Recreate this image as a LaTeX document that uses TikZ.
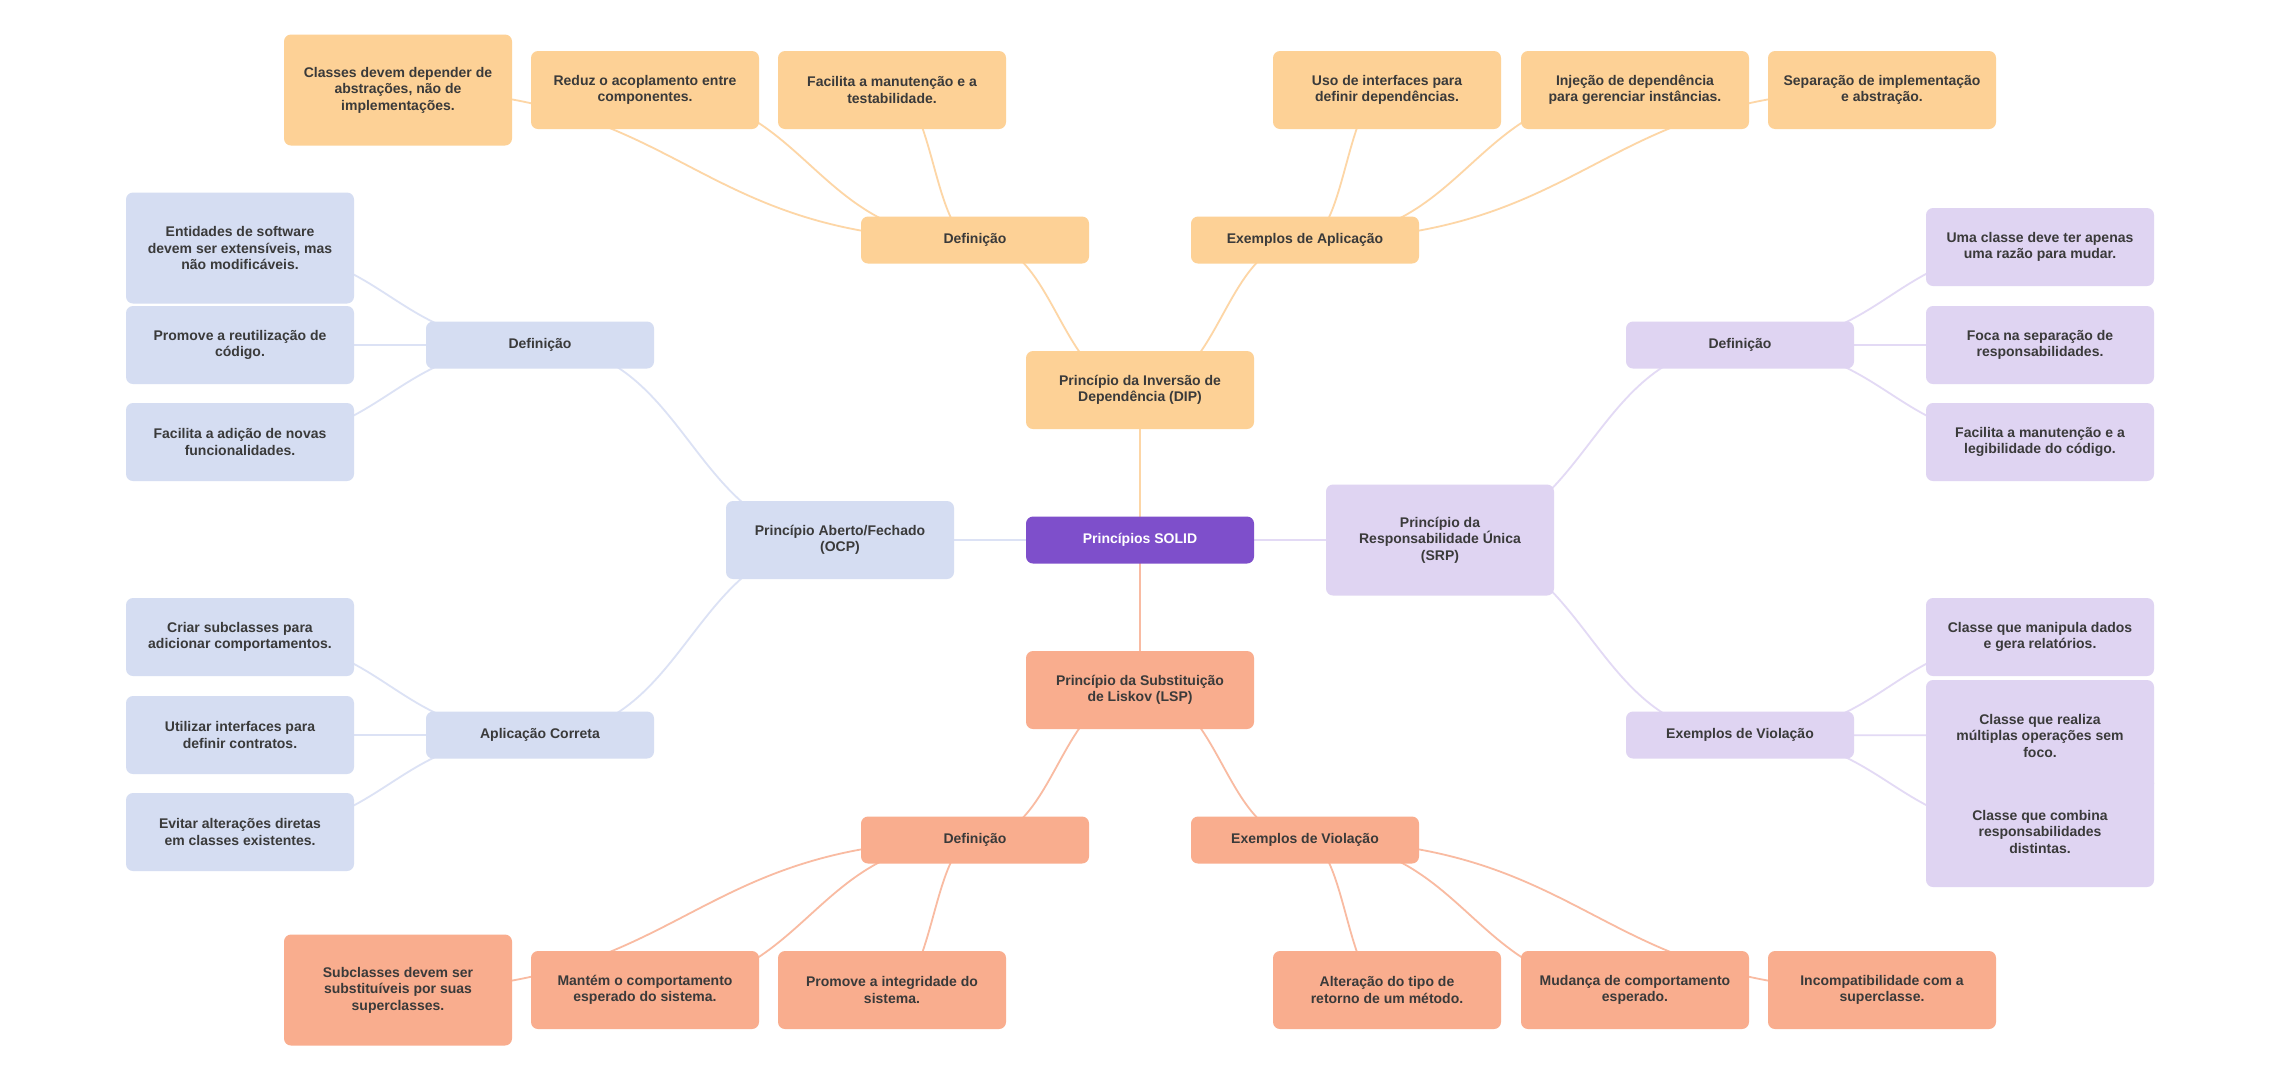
\documentclass[tikz,border=0pt]{standalone}
\usepackage{fontspec}
\setmainfont{Liberation Sans}
\usetikzlibrary{calc}
\definecolor{cRoot}{HTML}{7E4FCB}
\definecolor{cDip}{HTML}{FDD196}
\definecolor{cOcp}{HTML}{D5DDF2}
\definecolor{cSrp}{HTML}{DFD4F2}
\definecolor{cLsp}{HTML}{F9AD8E}
\definecolor{eDip}{HTML}{FDD6A6}
\definecolor{eOcp}{HTML}{DCE2F5}
\definecolor{eSrp}{HTML}{E3DAF5}
\definecolor{eLsp}{HTML}{F9BBA2}
\definecolor{txt}{HTML}{3A3A3A}
\pgfdeclarelayer{edgelayer}
\pgfsetlayers{edgelayer,main}
\newcommand\mmconn[3]{\draw[edge,#3] let \p1=(#1.center), \p2=(#2.center) in (\p1) .. controls ({0.5*(\x1+\x2)},\y1) and ({0.5*(\x1+\x2)},\y2) .. (\p2);}
\tikzset{
  box/.style={rounded corners=7pt, minimum width=228pt, inner sep=0pt, align=center,
    font=\fontsize{14}{16.5}\selectfont\bfseries, text=txt},
  hA/.style={minimum height=47pt},
  hB/.style={minimum height=78pt},
  hC/.style={minimum height=111pt},
  dipbox/.style={box, fill=cDip},
  ocpbox/.style={box, fill=cOcp},
  srpbox/.style={box, fill=cSrp},
  lspbox/.style={box, fill=cLsp},
  rootbox/.style={box, fill=cRoot, text=white},
  edge/.style={line width=1.8pt},
}
\begin{document}
\begin{tikzpicture}[x=1pt,y=-1pt]
\useasboundingbox (0,0) rectangle (2280,1080);
% root
\node[rootbox,hA] (root) at (1140,540) {Princípios SOLID};
% DIP
\node[dipbox,hB] (dip) at (1140,390) {Princípio da Inversão de\\Dependência (DIP)};
\node[dipbox,hA] (dipdef) at (975,240) {Definição};
\node[dipbox,hA] (dipex) at (1305,240) {Exemplos de Aplicação};
\node[dipbox,hC] (dipd1) at (398,90) {Classes devem depender de\\abstrações, não de\\implementações.};
\node[dipbox,hB] (dipd2) at (645,90) {Reduz o acoplamento entre\\componentes.};
\node[dipbox,hB] (dipd3) at (892,90) {Facilita a manutenção e a\\testabilidade.};
\node[dipbox,hB] (dipe1) at (1387,90) {Uso de interfaces para\\definir dependências.};
\node[dipbox,hB] (dipe2) at (1635,90) {Injeção de dependência\\para gerenciar instâncias.};
\node[dipbox,hB] (dipe3) at (1882,90) {Separação de implementação\\e abstração.};
% OCP
\node[ocpbox,hB] (ocp) at (840,540) {Princípio Aberto/Fechado\\(OCP)};
\node[ocpbox,hA] (ocpdef) at (540,345) {Definição};
\node[ocpbox,hA] (ocpapp) at (540,735) {Aplicação Correta};
\node[ocpbox,hC] (ocpd1) at (240,248) {Entidades de software\\devem ser extensíveis, mas\\não modificáveis.};
\node[ocpbox,hB] (ocpd2) at (240,345) {Promove a reutilização de\\código.};
\node[ocpbox,hB] (ocpd3) at (240,442) {Facilita a adição de novas\\funcionalidades.};
\node[ocpbox,hB] (ocpa1) at (240,637) {Criar subclasses para\\adicionar comportamentos.};
\node[ocpbox,hB] (ocpa2) at (240,735) {Utilizar interfaces para\\definir contratos.};
\node[ocpbox,hB] (ocpa3) at (240,832) {Evitar alterações diretas\\em classes existentes.};
% SRP
\node[srpbox,hC] (srp) at (1440,540) {Princípio da\\Responsabilidade Única\\(SRP)};
\node[srpbox,hA] (srpdef) at (1740,345) {Definição};
\node[srpbox,hA] (srpex) at (1740,735) {Exemplos de Violação};
\node[srpbox,hB] (srpd1) at (2040,247) {Uma classe deve ter apenas\\uma razão para mudar.};
\node[srpbox,hB] (srpd2) at (2040,345) {Foca na separação de\\responsabilidades.};
\node[srpbox,hB] (srpd3) at (2040,442) {Facilita a manutenção e a\\legibilidade do código.};
\node[srpbox,hB] (srpe1) at (2040,637) {Classe que manipula dados\\e gera relatórios.};
\node[srpbox,hC] (srpe2) at (2040,735.5) {Classe que realiza\\múltiplas operações sem\\foco.};
\node[srpbox,hC] (srpe3) at (2040,831.5) {Classe que combina\\responsabilidades\\distintas.};
% LSP
\node[lspbox,hB] (lsp) at (1140,690) {Princípio da Substituição\\de Liskov (LSP)};
\node[lspbox,hA] (lspdef) at (975,840) {Definição};
\node[lspbox,hA] (lspex) at (1305,840) {Exemplos de Violação};
\node[lspbox,hC] (lspd1) at (398,990) {Subclasses devem ser\\substituíveis por suas\\superclasses.};
\node[lspbox,hB] (lspd2) at (645,990) {Mantém o comportamento\\esperado do sistema.};
\node[lspbox,hB] (lspd3) at (892,990) {Promove a integridade do\\sistema.};
\node[lspbox,hB] (lspe1) at (1387,990) {Alteração do tipo de\\retorno de um método.};
\node[lspbox,hB] (lspe2) at (1635,990) {Mudança de comportamento\\esperado.};
\node[lspbox,hB] (lspe3) at (1882,990) {Incompatibilidade com a\\superclasse.};
% edges
\begin{pgfonlayer}{edgelayer}
\fill[white] (0,0) rectangle (2280,1080);
\mmconn{root}{dip}{eDip}
\mmconn{root}{ocp}{eOcp}
\mmconn{root}{srp}{eSrp}
\mmconn{root}{lsp}{eLsp}
\mmconn{dip}{dipdef}{eDip}
\mmconn{dip}{dipex}{eDip}
\mmconn{dipdef}{dipd1}{eDip}
\mmconn{dipdef}{dipd2}{eDip}
\mmconn{dipdef}{dipd3}{eDip}
\mmconn{dipex}{dipe1}{eDip}
\mmconn{dipex}{dipe2}{eDip}
\mmconn{dipex}{dipe3}{eDip}
\mmconn{ocp}{ocpdef}{eOcp}
\mmconn{ocp}{ocpapp}{eOcp}
\mmconn{ocpdef}{ocpd1}{eOcp}
\mmconn{ocpdef}{ocpd2}{eOcp}
\mmconn{ocpdef}{ocpd3}{eOcp}
\mmconn{ocpapp}{ocpa1}{eOcp}
\mmconn{ocpapp}{ocpa2}{eOcp}
\mmconn{ocpapp}{ocpa3}{eOcp}
\mmconn{srp}{srpdef}{eSrp}
\mmconn{srp}{srpex}{eSrp}
\mmconn{srpdef}{srpd1}{eSrp}
\mmconn{srpdef}{srpd2}{eSrp}
\mmconn{srpdef}{srpd3}{eSrp}
\mmconn{srpex}{srpe1}{eSrp}
\mmconn{srpex}{srpe2}{eSrp}
\mmconn{srpex}{srpe3}{eSrp}
\mmconn{lsp}{lspdef}{eLsp}
\mmconn{lsp}{lspex}{eLsp}
\mmconn{lspdef}{lspd1}{eLsp}
\mmconn{lspdef}{lspd2}{eLsp}
\mmconn{lspdef}{lspd3}{eLsp}
\mmconn{lspex}{lspe1}{eLsp}
\mmconn{lspex}{lspe2}{eLsp}
\mmconn{lspex}{lspe3}{eLsp}
\end{pgfonlayer}
\end{tikzpicture}
\end{document}
